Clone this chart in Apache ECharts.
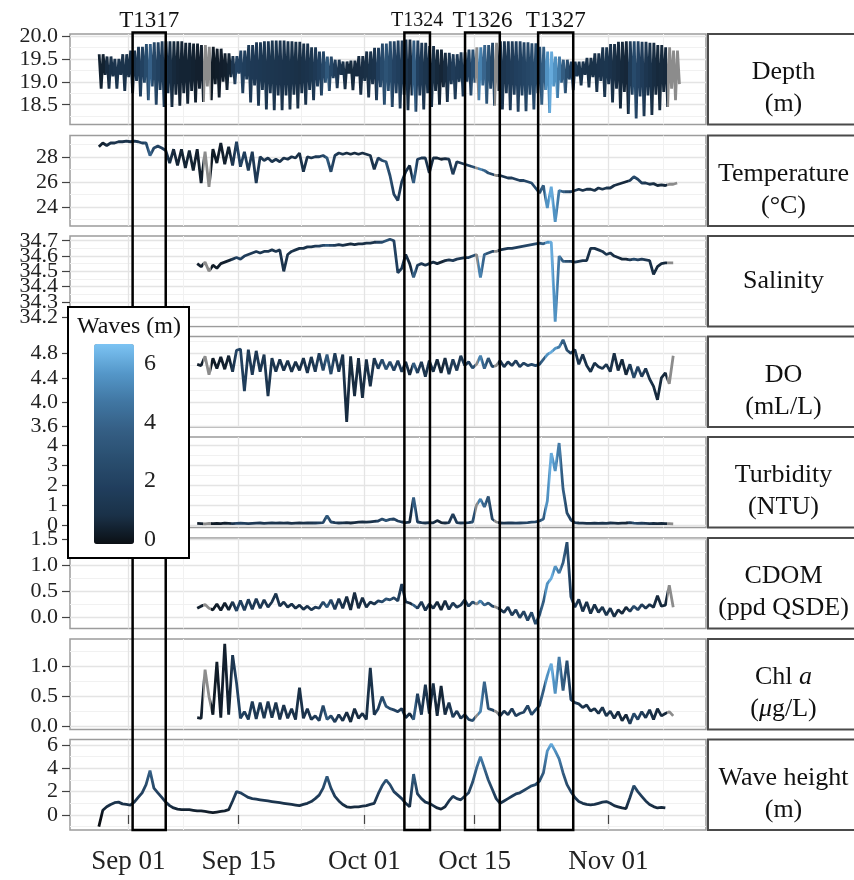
<!DOCTYPE html>
<html>
<head>
<meta charset="utf-8">
<script src="https://cdn.jsdelivr.net/npm/echarts@6.0.0/dist/echarts.min.js"></script>
<style>
  html, body { margin: 0; padding: 0; background: #fff; }
  #chart { width: 854px; height: 880px; }
</style>
</head>
<body>
<div id="chart"></div>
<script>
var DAY = 86400000;
var YEAR = 2015;
// 12-hourly samples, slot 0 = Aug 28 06:00
var slotStart = Date.UTC(YEAR, 7, 28, 6);
var depthStart = Date.UTC(YEAR, 7, 28, 7);
var otherFirstSlot = 25;

// wave height (m), slots 0..144
var waveHeight = [
  -1, 0.4, 0.7, 0.9, 1.05, 1.1, 0.95, 0.9, 0.85, 1.1,
  1.5, 1.9, 2.6, 3.8, 2.3, 1.9, 1.5, 1.1, 0.8, 0.6,
  0.5, 0.45, 0.45, 0.45, 0.4, 0.35, 0.35, 0.3, 0.25, 0.2,
  0.25, 0.3, 0.35, 0.45, 1.2, 2.0, 1.9, 1.7, 1.5, 1.4,
  1.35, 1.3, 1.25, 1.2, 1.15, 1.1, 1.05, 1.0, 0.95, 0.9,
  0.85, 0.8, 0.9, 1.0, 1.15, 1.4, 1.7, 2.3, 3.3, 2.3,
  1.6, 1.2, 0.9, 0.7, 0.65, 0.7, 0.7, 0.75, 0.8, 0.9,
  1.0, 1.8, 2.5, 3.0, 2.6, 2.0, 1.7, 1.4, 1.0, 0.7,
  3.5, 1.8, 1.4, 1.1, 1.0, 0.8, 0.6, 0.5, 0.7, 1.2,
  1.6, 1.4, 1.3, 1.6, 1.9, 2.8, 4.0, 5.0, 4.0, 3.0,
  2.2, 1.4, 1.0, 1.2, 1.4, 1.6, 1.8, 1.9, 2.1, 2.3,
  2.5, 2.6, 2.9, 3.6, 5.5, 6.1, 5.5, 4.8, 3.6, 2.6,
  2.0, 1.5, 1.15, 1.0, 0.9, 0.87, 0.9, 1.0, 1.1, 1.15,
  1.0, 0.8, 0.7, 0.6, 0.55, 1.5, 2.5, 2.0, 1.6, 1.2,
  0.9, 0.72, 0.6, 0.65, 0.6
];
// slots with no wave record (drawn grey in the other panels)
var waveGapSlots = [27, 28, 96, 101];

// temperature (°C), slots 0..147
var temperature = [
  28.8, 29.1, 28.9, 29.1, 29.1, 29.2, 29.2, 29.25, 29.2, 29.25,
  29.2, 29.1, 29.1, 28.1, 28.7, 28.85, 28.7, 28.5, 27.5, 28.6,
  27.3, 28.6, 27.1, 28.5, 26.9, 28.6, 25.9, 28.4, 25.6, 28.6,
  27.5, 29.1, 27.4, 28.8, 27.3, 29.2, 27.2, 28.4, 26.9, 28.4,
  25.9, 28.0, 27.7, 27.9, 27.6, 27.8, 27.6, 27.9, 27.8, 28.0,
  27.9, 28.3, 26.8, 28.0, 27.9, 28.0, 28.0, 28.1, 27.9, 26.8,
  28.1, 28.3, 28.2, 28.3, 28.2, 28.3, 28.2, 28.3, 28.2, 28.1,
  27.0, 27.9, 27.7, 27.6, 26.5, 25.0, 24.5, 26.0, 26.8, 27.3,
  25.9, 27.8, 27.9, 27.9, 26.7, 27.9, 27.9, 27.8, 27.85, 27.8,
  26.6, 27.6, 27.5, 27.4, 27.3, 27.2, 27.1, 27.0, 26.9, 26.7,
  26.6, 26.5, 26.5, 26.4, 26.3, 26.3, 26.2, 26.1, 26.1, 26.0,
  25.9, 25.5, 25.1, 25.7, 23.9, 25.6, 22.8, 25.3, 25.2, 25.2,
  25.2, 25.3, 25.4, 25.3, 25.4, 25.4, 25.3, 25.5, 25.4, 25.5,
  25.5, 25.7, 25.8, 25.9, 26.0, 26.1, 26.4, 26.2, 25.9, 25.9,
  25.8, 25.85, 25.7, 25.75, 25.7, 25.8, 25.8, 25.9
];

// slots 25..146
var salinity = [
  34.55, 34.53, 34.56, 34.50, 34.54, 34.52, 34.55, 34.56, 34.57, 34.58,
  34.59, 34.58, 34.60, 34.61, 34.62, 34.63, 34.62, 34.63, 34.63, 34.64,
  34.63, 34.64, 34.50, 34.61, 34.63, 34.64, 34.65, 34.65, 34.66, 34.66,
  34.665, 34.665, 34.67, 34.67, 34.67, 34.67, 34.675, 34.67, 34.675, 34.68,
  34.675, 34.68, 34.68, 34.685, 34.685, 34.69, 34.69, 34.69, 34.70, 34.71,
  34.70, 34.49, 34.52, 34.61, 34.55, 34.46, 34.54, 34.55, 34.54, 34.55,
  34.56, 34.55, 34.56, 34.57, 34.575, 34.57, 34.58, 34.585, 34.59, 34.59,
  34.60, 34.61, 34.46, 34.61, 34.62, 34.63, 34.63, 34.64, 34.645, 34.65,
  34.65, 34.655, 34.66, 34.665, 34.67, 34.675, 34.68, 34.685, 34.68, 34.69,
  34.69, 34.17, 34.60, 34.565, 34.565, 34.565, 34.56, 34.565, 34.57, 34.57,
  34.65, 34.65, 34.64, 34.63, 34.61, 34.62, 34.60, 34.59, 34.58, 34.58,
  34.575, 34.58, 34.575, 34.58, 34.575, 34.57, 34.48, 34.53, 34.55, 34.555,
  34.555, 34.555
];
var dissolvedOxygen = [
  4.62, 4.60, 4.75, 4.45, 4.72, 4.55, 4.74, 4.54, 4.76, 4.50,
  4.85, 4.87, 4.18, 4.86, 4.45, 4.84, 4.50, 4.78, 4.10, 4.72,
  4.50, 4.70, 4.52, 4.68, 4.50, 4.66, 4.52, 4.72, 4.48, 4.74,
  4.50, 4.80, 4.52, 4.78, 4.46, 4.80, 4.50, 4.78, 3.68, 4.75,
  4.10, 4.72, 4.07, 4.70, 4.26, 4.72, 4.55, 4.70, 4.54, 4.66,
  4.52, 4.68, 4.50, 4.66, 4.45, 4.64, 4.48, 4.66, 4.42, 4.68,
  4.50, 4.70, 4.48, 4.72, 4.46, 4.70, 4.52, 4.76, 4.60, 4.66,
  4.56, 4.62, 4.76, 4.55, 4.72, 4.58, 4.60, 4.68, 4.58, 4.66,
  4.60, 4.68, 4.58, 4.64, 4.60, 4.62, 4.60, 4.62, 4.70, 4.78,
  4.82, 4.88, 4.90, 5.02, 4.85, 4.80, 4.86, 4.62, 4.78, 4.60,
  4.50, 4.64, 4.58, 4.55, 4.62, 4.50, 4.80, 4.52, 4.70, 4.45,
  4.62, 4.40, 4.58, 4.42, 4.55, 4.38, 4.26, 4.04, 4.40, 4.48,
  4.30, 4.76
];
var turbidity = [
  0.08, 0.07, 0.06, 0.08, 0.07, 0.08, 0.07, 0.09, 0.08, 0.07,
  0.08, 0.09, 0.08, 0.07, 0.08, 0.09, 0.10, 0.08, 0.09, 0.10,
  0.09, 0.10, 0.09, 0.10, 0.08, 0.09, 0.10, 0.09, 0.10, 0.11,
  0.10, 0.11, 0.12, 0.46, 0.15, 0.12, 0.10, 0.11, 0.12, 0.10,
  0.12, 0.14, 0.15, 0.14, 0.16, 0.18, 0.20, 0.30, 0.22, 0.28,
  0.30, 0.20, 0.15, 0.12, 0.14, 1.38, 0.15, 0.12, 0.10, 0.12,
  0.11, 0.22, 0.12, 0.10, 0.12, 0.54, 0.12, 0.10, 0.11, 0.12,
  0.15, 1.00, 1.30, 0.90, 1.42, 0.30, 0.15, 0.10, 0.09, 0.10,
  0.10, 0.09, 0.10, 0.11, 0.12, 0.14, 0.16, 0.20, 0.30, 1.20,
  3.60, 2.70, 4.10, 1.80, 0.60, 0.25, 0.12, 0.10, 0.09, 0.08,
  0.08, 0.09, 0.08, 0.09, 0.08, 0.10, 0.09, 0.08, 0.09, 0.10,
  0.12, 0.09, 0.08, 0.09, 0.08, 0.07, 0.08, 0.07, 0.08, 0.07,
  0.07, 0.06
];
var cdom = [
  0.18, 0.22, 0.25, 0.18, 0.15, 0.26, 0.14, 0.28, 0.15, 0.30,
  0.13, 0.33, 0.14, 0.35, 0.16, 0.36, 0.18, 0.34, 0.20, 0.30,
  0.46, 0.22, 0.30, 0.20, 0.26, 0.18, 0.24, 0.16, 0.22, 0.15,
  0.20, 0.18, 0.30, 0.20, 0.34, 0.16, 0.36, 0.18, 0.40, 0.15,
  0.48, 0.18, 0.38, 0.20, 0.30, 0.26, 0.32, 0.30, 0.36, 0.34,
  0.38, 0.32, 0.64, 0.30, 0.28, 0.24, 0.18, 0.30, 0.14, 0.26,
  0.18, 0.30, 0.15, 0.32, 0.16, 0.28, 0.20, 0.24, 0.34, 0.22,
  0.30, 0.26, 0.32, 0.24, 0.28, 0.22, 0.20, 0.16, 0.10, 0.20,
  0.05, 0.15, 0.00, 0.12, -0.05, 0.10, -0.12, 0.05, 0.30, 0.65,
  0.75, 0.98, 0.85, 1.05, 1.44, 0.40, 0.20, 0.35, 0.12, 0.30,
  0.08, 0.25, 0.10, 0.20, 0.05, 0.18, 0.02, 0.15, 0.08, 0.20,
  0.12, 0.22, 0.15, 0.25, 0.18, 0.25, 0.20, 0.42, 0.22, 0.24,
  0.62, 0.20
];
var chlA = [
  0.15, 0.14, 0.95, 0.50, 0.20, 1.08, 0.15, 1.38, 0.20, 1.19,
  0.73, 0.14, 0.25, 0.12, 0.42, 0.13, 0.40, 0.14, 0.42, 0.15,
  0.40, 0.12, 0.36, 0.14, 0.30, 0.12, 0.65, 0.14, 0.30, 0.12,
  0.18, 0.10, 0.35, 0.12, 0.18, 0.08, 0.20, 0.10, 0.24, 0.08,
  0.30, 0.14, 0.22, 0.12, 0.98, 0.20, 0.30, 0.50, 0.34, 0.30,
  0.28, 0.25, 0.30, 0.15, 0.22, 0.12, 0.55, 0.20, 0.70, 0.22,
  0.72, 0.18, 0.68, 0.20, 0.40, 0.16, 0.26, 0.14, 0.20, 0.12,
  0.10, 0.18, 0.25, 0.75, 0.30, 0.28, 0.25, 0.18, 0.26, 0.20,
  0.30, 0.18, 0.22, 0.24, 0.35, 0.20, 0.28, 0.35, 0.60, 0.85,
  1.05, 0.55, 1.16, 0.60, 1.10, 0.45, 0.40, 0.38, 0.32, 0.36,
  0.26, 0.30, 0.22, 0.32, 0.18, 0.26, 0.14, 0.25, 0.10, 0.20,
  0.05, 0.22, 0.12, 0.25, 0.15, 0.28, 0.12, 0.30, 0.18, 0.22,
  0.25, 0.18
];

// depth (m): one tidal day per entry, Aug 28 .. Nov 9
var depthHigh = [
  19.60, 19.55, 19.50, 19.60, 19.68, 19.76, 19.82, 19.86, 19.88, 19.88,
  19.88, 19.85, 19.83, 19.80, 19.76, 19.72, 19.62, 19.56, 19.68, 19.80,
  19.86, 19.88, 19.90, 19.90, 19.88, 19.87, 19.83, 19.75, 19.66, 19.55,
  19.48, 19.44, 19.46, 19.56, 19.66, 19.74, 19.83, 19.88, 19.90, 19.92,
  19.90, 19.85, 19.78, 19.70, 19.63, 19.60, 19.64, 19.70, 19.75, 19.80,
  19.85, 19.88, 19.88, 19.88, 19.86, 19.84, 19.76, 19.66, 19.55, 19.48,
  19.44, 19.44, 19.52, 19.62, 19.75, 19.82, 19.87, 19.88, 19.88, 19.87,
  19.85, 19.80, 19.75, 19.68
];
var depthLowDeep = [
  18.85, 18.85, 18.85, 18.80, 18.75, 18.68, 18.60, 18.50, 18.45, 18.45,
  18.48, 18.52, 18.55, 18.56, 18.60, 18.66, 18.82, 18.95, 18.75, 18.55,
  18.48, 18.40, 18.38, 18.38, 18.40, 18.42, 18.50, 18.60, 18.70, 18.80,
  18.86, 18.84, 18.82, 18.72, 18.66, 18.60, 18.50, 18.45, 18.42, 18.38,
  18.35, 18.40, 18.45, 18.50, 18.56, 18.62, 18.68, 18.70, 18.60, 18.52,
  18.48, 18.40, 18.38, 18.35, 18.36, 18.40, 18.50, 18.32, 18.65, 18.75,
  18.82, 18.92, 18.88, 18.78, 18.67, 18.55, 18.42, 18.30, 18.20, 18.25,
  18.28, 18.38, 18.45, 18.60
];
var depthLowShallow = [
  19.15, 19.12, 19.15, 19.10, 19.02, 18.98, 18.90, 18.82, 18.75, 18.72,
  18.75, 18.80, 18.85, 18.90, 18.95, 19.00, 19.10, 19.18, 19.05, 18.92,
  18.82, 18.75, 18.70, 18.70, 18.72, 18.75, 18.82, 18.90, 18.98, 19.08,
  19.15, 19.18, 19.12, 19.02, 18.95, 18.88, 18.80, 18.75, 18.72, 18.70,
  18.70, 18.75, 18.80, 18.88, 18.95, 19.00, 19.00, 18.98, 18.92, 18.85,
  18.80, 18.75, 18.72, 18.70, 18.72, 18.75, 18.82, 18.90, 18.98, 19.05,
  19.12, 19.15, 19.10, 19.02, 18.95, 18.85, 18.78, 18.72, 18.68, 18.70,
  18.72, 18.78, 18.85, 18.95
];

var dateTicks = [Date.UTC(YEAR, 8, 1), Date.UTC(YEAR, 8, 15), Date.UTC(YEAR, 9, 1), Date.UTC(YEAR, 9, 15), Date.UTC(YEAR, 10, 1)];
var dateMinor = [Date.UTC(YEAR, 8, 8), Date.UTC(YEAR, 8, 23), Date.UTC(YEAR, 9, 8), Date.UTC(YEAR, 9, 23, 12), Date.UTC(YEAR, 10, 8)];

var transectNames = ['T1317', 'T1324', 'T1326', 'T1327'];
var transectStart = [Date.UTC(YEAR, 8, 1, 13), Date.UTC(YEAR, 9, 6, 2), Date.UTC(YEAR, 9, 13, 19), Date.UTC(YEAR, 9, 23, 2)];
var transectEnd = [Date.UTC(YEAR, 8, 5, 18), Date.UTC(YEAR, 9, 9, 8), Date.UTC(YEAR, 9, 18, 5), Date.UTC(YEAR, 9, 27, 13)];

var waveMin = -0.14, waveMax = 6.66;
var waveLegendTicks = [0, 2, 4, 6];
var waveColors = ['#0b0f14', '#1a3148', '#213f5e', '#2a4f70', '#355f85', '#4177a3', '#5598ca', '#7cc3f3'];
var missingColor = '#8c8c8c';

var panels = [
  {label: 'Depth\n(m)', min: 18.07, max: 20.04, ticks: [18.5, 19.0, 19.5, 20.0], minor: [18.25, 18.75, 19.25, 19.75], digits: 1},
  {label: 'Temperature\n(°C)', min: 22.46, max: 29.70, ticks: [24, 26, 28], minor: [23, 25, 27, 29], digits: 0},
  {label: 'Salinity', min: 34.139, max: 34.731, ticks: [34.2, 34.3, 34.4, 34.5, 34.6, 34.7], minor: [34.15, 34.25, 34.35, 34.45, 34.55, 34.65], digits: 1},
  {label: 'DO\n(mL/L)', min: 3.595, max: 5.075, ticks: [3.6, 4.0, 4.4, 4.8], minor: [3.8, 4.2, 4.6, 5.0], digits: 1},
  {label: 'Turbidity\n(NTU)', min: -0.125, max: 4.4, ticks: [0, 1, 2, 3, 4], minor: [0.5, 1.5, 2.5, 3.5], digits: 0},
  {label: 'CDOM\n(ppd QSDE)', min: -0.206, max: 1.52, ticks: [0, 0.5, 1.0, 1.5], minor: [0.25, 0.75, 1.25], digits: 1},
  {label: 'Chl {i|a}\n({i|μ}g/L)', min: -0.047, max: 1.46, ticks: [0, 0.5, 1.0], minor: [0.25, 0.75, 1.25], digits: 1},
  {label: 'Wave height\n(m)', min: -1.29, max: 6.47, ticks: [0, 2, 4, 6], minor: [-1, 1, 3, 5], digits: 0}
];

// ---- layout ----
var FONT = "'Liberation Serif', 'Times New Roman', serif";
var panelTops = [34, 135.5, 236, 336.5, 437, 538, 639, 739.5];
var panelHeight = 90.5;
var plotLeft = 70, plotRight = 148;
var xMin = Date.UTC(YEAR, 7, 24, 14), xMax = Date.UTC(YEAR, 10, 13, 10);
var MONTHS = ['Jan', 'Feb', 'Mar', 'Apr', 'May', 'Jun', 'Jul', 'Aug', 'Sep', 'Oct', 'Nov', 'Dec'];

function slotSeries(values, firstSlot) {
  return values.map(function (v, k) {
    return [slotStart + (firstSlot + k) * DAY / 2, v];
  });
}

var depthData = [];
depthHigh.forEach(function (hi, d) {
  var t = depthStart + d * DAY;
  depthData.push([t, hi], [t + DAY / 4, depthLowDeep[d]], [t + DAY / 2, hi], [t + 3 * DAY / 4, depthLowShallow[d]]);
});

var panelData = [
  depthData,
  slotSeries(temperature, 0),
  slotSeries(salinity, otherFirstSlot),
  slotSeries(dissolvedOxygen, otherFirstSlot),
  slotSeries(turbidity, otherFirstSlot),
  slotSeries(cdom, otherFirstSlot),
  slotSeries(chlA, otherFirstSlot),
  slotSeries(waveHeight, 0)
];

// colour of every other panel follows the wave height at the same time
var wavePieces = [];
waveHeight.forEach(function (v, k) {
  if (waveGapSlots.indexOf(k) >= 0) return;
  var h = v < 0 ? waveHeight[k + 1] : v;
  var t = slotStart + k * DAY / 2;
  wavePieces.push({
    gte: t - DAY / 4, lt: t + DAY / 4,
    color: echarts.color.lerp((h - waveMin) / (waveMax - waveMin), waveColors)
  });
});

function dateLabel(v) {
  var d = new Date(v);
  var day = d.getUTCDate();
  return MONTHS[d.getUTCMonth()] + ' ' + (day < 10 ? '0' + day : day);
}

var grids = [], xAxes = [], yAxes = [], series = [], graphics = [];
var nP = panels.length;
var yLabelStyle = {fontFamily: FONT, fontSize: 22, color: '#222', margin: 12,
                   hideOverlap: false, showMinLabel: true, showMaxLabel: true};

panels.forEach(function (p, k) {
  grids.push({
    left: plotLeft, right: plotRight, top: panelTops[k], height: panelHeight,
    show: true, backgroundColor: '#fff', borderColor: '#9c9c9c', borderWidth: 1.5,
    outerBoundsMode: 'none'
  });
  var last = k === nP - 1;
  var fmt = (function (digits) { return function (v) { return v.toFixed(digits); }; })(p.digits);
  // labels split over two stacked left axes so that crowded labels all stay visible
  var evenTicks = p.ticks.filter(function (v, j) { return j % 2 === 0; });
  var oddTicks = p.ticks.filter(function (v, j) { return j % 2 === 1; });

  xAxes[k] = {
    type: 'value', gridIndex: k, min: xMin, max: xMax,
    axisLine: {show: false},
    axisTick: {show: last, customValues: dateTicks, length: 9, lineStyle: {color: '#444', width: 1.2}},
    axisLabel: {
      show: last, customValues: dateTicks, margin: 18,
      fontFamily: FONT, fontSize: 27, color: '#222', formatter: dateLabel
    },
    splitLine: {show: true, lineStyle: {color: '#e4e4e4', width: 1.3}}
  };
  xAxes[nP + k] = {
    type: 'value', gridIndex: k, min: xMin, max: xMax, position: 'top',
    axisLine: {show: false},
    axisTick: {show: false, customValues: dateMinor},
    axisLabel: {show: false},
    splitLine: {show: true, lineStyle: {color: '#f1f1f1', width: 1}}
  };
  yAxes[k] = {
    type: 'value', gridIndex: k, min: p.min, max: p.max, position: 'left',
    axisLine: {show: false},
    axisTick: {show: true, customValues: p.ticks, length: 8, lineStyle: {color: '#444', width: 1.2}},
    axisLabel: Object.assign({customValues: evenTicks, formatter: fmt}, yLabelStyle),
    splitLine: {show: true, lineStyle: {color: '#e4e4e4', width: 1.3}}
  };
  yAxes[nP + k] = {
    type: 'value', gridIndex: k, min: p.min, max: p.max, position: 'right',
    axisLine: {show: false},
    axisTick: {show: false, customValues: p.minor},
    axisLabel: {show: false},
    splitLine: {show: true, lineStyle: {color: '#f1f1f1', width: 1}}
  };
  yAxes[2 * nP + k] = {
    type: 'value', gridIndex: k, min: p.min, max: p.max, position: 'left', offset: 0,
    axisLine: {show: false},
    axisTick: {show: false, customValues: oddTicks},
    axisLabel: Object.assign({show: oddTicks.length > 0, customValues: oddTicks, formatter: fmt}, yLabelStyle),
    splitLine: {show: false}
  };
  series.push({
    type: 'line', xAxisIndex: k, yAxisIndex: k, data: panelData[k],
    showSymbol: false, symbol: 'none', silent: true,
    lineStyle: {width: 2.8}
  });

  // facet strip on the right
  var twoLines = p.label.indexOf('\n') >= 0;
  graphics.push({
    type: 'rect', z: 100,
    shape: {x: 708, y: panelTops[k], width: 160, height: panelHeight},
    style: {fill: '#fff', stroke: '#4a4a4a', lineWidth: 2}
  });
  graphics.push({
    type: 'text', z: 101,
    x: 783.5, y: panelTops[k] + panelHeight / 2 + (twoLines ? 9 : 0),
    style: {
      text: p.label, fontFamily: FONT, fontSize: 26, fill: '#111',
      align: 'center', verticalAlign: 'middle', lineHeight: 32,
      rich: {i: {fontFamily: FONT, fontSize: 26, fontStyle: 'italic', fill: '#111', lineHeight: 32}}
    }
  });
});

// overlay for the transect boxes
var overlayGrid = nP, legendGrid = nP + 1;
var overlayX = 2 * nP, legendX = 2 * nP + 1;
var overlayY = 3 * nP, legendY = 3 * nP + 1;
grids[overlayGrid] = {left: plotLeft, right: plotRight, top: 32.5, height: 797.5, show: false, outerBoundsMode: 'none'};
xAxes[overlayX] = {type: 'value', gridIndex: overlayGrid, min: xMin, max: xMax, show: false};
yAxes[overlayY] = {type: 'value', gridIndex: overlayGrid, min: 0, max: 1, show: false};
series.push({
  type: 'custom', xAxisIndex: overlayX, yAxisIndex: overlayY, z: 5, clip: false, silent: true,
  data: transectNames.map(function (n, k) { return [transectStart[k], transectEnd[k]]; }),
  encode: {x: [0, 1]},
  renderItem: function (params, api) {
    var p0 = api.coord([api.value(0), 1]);
    var p1 = api.coord([api.value(1), 0]);
    var name = transectNames[params.dataIndex];
    return {
      type: 'group',
      children: [
        {type: 'rect', shape: {x: p0[0], y: p0[1], width: p1[0] - p0[0], height: p1[1] - p0[1]},
         style: {fill: 'none', stroke: '#000', lineWidth: 2.5}},
        {type: 'text', style: {
          text: name, x: (p0[0] + p1[0]) / 2, y: p0[1] - 12,
          align: 'center', verticalAlign: 'middle',
          fontFamily: FONT, fontSize: name === 'T1324' ? 20 : 23, fill: '#111'
        }}
      ]
    };
  }
});

// colour bar legend
graphics.push({
  type: 'rect', z: 100,
  shape: {x: 68, y: 307, width: 121, height: 251},
  style: {fill: '#fff', stroke: '#000', lineWidth: 2}
});
graphics.push({
  type: 'text', z: 101, x: 129, y: 327,
  style: {text: 'Waves (m)', fontFamily: FONT, fontSize: 24, fill: '#111', align: 'center', verticalAlign: 'middle'}
});
grids[legendGrid] = {left: 94, top: 344, width: 40, height: 200, show: false, z: 120, outerBoundsMode: 'none'};
xAxes[legendX] = {type: 'value', gridIndex: legendGrid, min: 0, max: 1, show: false};
yAxes[legendY] = {
  type: 'value', gridIndex: legendGrid, min: waveMin, max: waveMax, position: 'right', z: 120,
  axisLine: {show: false}, axisTick: {show: false}, splitLine: {show: false},
  axisLabel: {customValues: waveLegendTicks, margin: 10, fontFamily: FONT, fontSize: 24, color: '#222',
              showMinLabel: true, showMaxLabel: true}
};

var chart = echarts.init(document.getElementById('chart'));
chart.setOption({
  animation: false,
  backgroundColor: '#fff',
  grid: grids,
  xAxis: xAxes,
  yAxis: yAxes,
  visualMap: [
    {
      type: 'continuous', seriesIndex: nP - 1, dimension: 1,
      min: waveMin, max: waveMax, calculable: false, realtime: false,
      left: 94, top: 344, itemWidth: 40, itemHeight: 200, padding: 0,
      text: null, z: 110, hoverLink: false,
      inRange: {color: waveColors}, outOfRange: {color: missingColor}
    },
    {
      type: 'piecewise', show: false, dimension: 0,
      seriesIndex: [0, 1, 2, 3, 4, 5, 6],
      pieces: wavePieces, outOfRange: {color: missingColor}
    }
  ],
  graphic: {elements: graphics},
  series: series
});
</script>
</body>
</html>
